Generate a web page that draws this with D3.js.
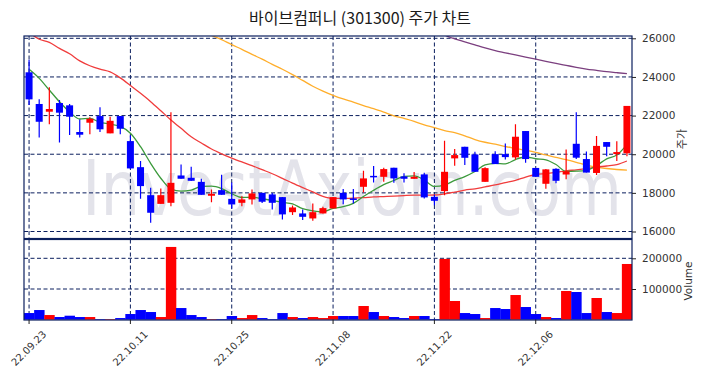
<!DOCTYPE html>
<html><head><meta charset="utf-8">
<script src="https://cdn.jsdelivr.net/npm/d3@7"></script>
<style>body{margin:0;background:#fff}svg{display:block}</style>
</head><body>
<svg id="c" width="703" height="378"></svg>
<script>
const dates = ["22.09.23","22.09.26","22.09.27","22.09.28","22.09.29","22.09.30","22.10.04","22.10.05","22.10.06","22.10.07",
"22.10.11","22.10.12","22.10.13","22.10.14","22.10.17","22.10.18","22.10.19","22.10.20","22.10.21","22.10.24",
"22.10.25","22.10.26","22.10.27","22.10.28","22.10.31","22.11.01","22.11.02","22.11.03","22.11.04","22.11.07",
"22.11.08","22.11.09","22.11.10","22.11.11","22.11.14","22.11.15","22.11.16","22.11.17","22.11.18","22.11.21",
"22.11.22","22.11.23","22.11.24","22.11.25","22.11.28","22.11.29","22.11.30","22.12.01","22.12.02","22.12.05",
"22.12.06","22.12.07","22.12.08","22.12.09","22.12.12","22.12.13","22.12.14","22.12.15","22.12.16","22.12.19"];
const openP = [24240,22600,22200,22650,22530,21150,21630,21975,21080,21975,
 20680,19330,17880,17430,17485,18900,18780,18570,17850,18140,
 17690,17485,17660,18000,17920,17780,17000,16935,16676,16935,
 17195,18000,17710,18313,18880,18830,19300,18850,18727,18955,
 17795,18090,19785,20385,19990,18570,20005,20005,19835,21200,
 19290,18470,19245,18950,20540,19750,19030,20630,20007,20050];
const highP = [24890,22840,23460,22800,22600,21800,21910,22430,21940,21975,
 20975,19645,18260,18230,22170,19470,19350,18730,18180,18935,
 18540,17830,18180,18000,17990,17780,17350,17140,17450,17280,
 17780,18195,18195,19140,19385,19300,19300,19020,19075,19040,
 17900,20695,20265,20385,20125,19330,20160,20560,21545,21200,
 19290,19230,19280,20250,22170,20140,20940,20630,20670,22500];
const lowP = [22545,20870,21550,20610,20990,20870,21040,21150,21080,21040,
 19245,17690,16450,17430,17310,18730,18620,17900,17520,17900,
 17195,17310,17400,17480,17140,16625,16850,16590,16550,16935,
 17194,17415,17450,18020,18540,18570,18520,18540,18727,17710,
 17365,17880,19400,19440,19090,18570,19490,19730,19730,19555,
 18830,18210,18500,18710,19750,19050,18920,19900,19650,19900];
const closeP = [22840,21680,22340,22150,21940,21010,21835,21290,21730,21320,
 19265,18350,16970,17880,18520,18730,18625,17900,17950,17900,
 17400,17660,17970,17540,17485,16885,17245,16760,17000,17210,
 17780,17660,17640,18748,18830,19230,18750,18730,18830,17765,
 17590,19090,19955,19815,19090,19280,19490,19850,20905,19750,
 18830,19215,18625,19120,19820,19050,20430,20385,20110,22500];
const volume = [21700,31500,15200,8700,13000,8700,8700,2200,2200,5400,
 18500,31500,25000,8700,237000,38000,15200,8700,2200,2200,
 12000,5400,15200,5400,2200,21700,8700,5400,8700,5400,
 12000,12000,12000,44600,25000,12000,8700,5400,12000,12000,
 2200,198000,60900,21700,18500,5400,38000,34800,80400,41300,
 18500,8700,5400,93500,90200,21700,70700,25000,21700,181500];
const ma5 = [24394,23928,23322,22716,22190,21824,21855,21645,21561,21437,
 21088,20391,19527,18757,18197,18090,18145,18331,18345,18221,
 17955,17762,17776,17694,17611,17508,17425,17183,17075,17020,
 17199,17282,17458,17808,18132,18422,18640,18858,18874,18661,
 18333,18401,18646,18843,19108,19446,19526,19505,19723,19855,
 19765,19710,19465,19108,19122,19166,19409,19761,19959,20495];
const ma20 = [26300,25950,25790,25480,25200,24830,24580,24400,24260,23950,
 23560,23150,22720,22250,21770,21340,20900,20580,20270,20020,
 19800,19600,19410,19200,18990,18750,18500,18270,18050,17820,
 17710,17710,17720,17750,17790,17810,17830,17860,17880,17880,
 17890,17950,18040,18140,18210,18310,18410,18530,18650,18820,
 18950,19000,19060,19140,19190,19250,19330,19390,19460,19650];
const ma60 = [null,null,null,null,null,null,null,null,null,null,
 null,null,null,null,null,null,null,26400,26150,25930,
 25670,25430,25170,24920,24650,24400,24120,23820,23520,23270,
 23050,22860,22700,22520,22360,22180,21990,21850,21700,21520,
 21380,21220,21120,20950,20760,20620,20520,20400,20300,20200,
 20100,19960,19840,19720,19580,19430,19330,19260,19210,19180];
const ma120 = [null,null,null,null,null,null,null,null,null,null,
 null,null,null,null,null,null,null,null,null,null,
 null,null,null,null,null,null,null,null,null,null,
 null,null,null,null,null,null,null,null,null,null,
 26500,26170,25970,25820,25660,25500,25360,25250,25140,25030,
 24920,24810,24700,24600,24500,24410,24340,24270,24220,24170];
const priceTicks = [16000,18000,20000,22000,24000,26000];
const volTicks = [100000,200000];
const tickIdx = [0,10,20,30,40,50];

const svg = d3.select("#c");
const L = 24, R = 632, T = 36, MB = 238.5, VT = 239.5, VB = 320;
const navy = "#0b1f5e";
const UP = "#ff0000", DOWN = "#0000ff";

svg.append("rect").attr("width",703).attr("height",378).attr("fill","#fff");

const x = d3.scaleBand().domain(d3.range(dates.length)).range([L, R]).padding(0);
const y = d3.scaleLinear().domain([16000, 26000]).range([231.5, 38.3]);
const yv = d3.scaleLinear().domain([0, 200000]).range([319.7, 258.3]);
const cx = i => x(i) + x.bandwidth()/2;

// title
svg.append("text").attr("x",360).attr("y",23.5).attr("text-anchor","middle")
  .attr("font-family","'Noto Sans CJK KR','Noto Sans',sans-serif").attr("font-size",16)
  .attr("fill","#1a1a1a").text("바이브컴퍼니 (301300) 주가 차트");

// clip paths
const defs = svg.append("defs");
defs.append("clipPath").attr("id","mc").append("rect").attr("x",L).attr("y",T).attr("width",R-L).attr("height",MB-T);
defs.append("clipPath").attr("id","vc").append("rect").attr("x",L).attr("y",VT).attr("width",R-L).attr("height",VB-VT);

// watermark: fit to 540px wide, stretched vertically to match glyph height
const wm = svg.append("text").attr("x",0).attr("y",0)
  .attr("font-family","'DejaVu Sans',sans-serif").attr("font-size",76).attr("fill","#e3e3ea")
  .text("InvestAxiom.com");
const natW = wm.node().getComputedTextLength() || 640;
const fs = 76 * 540 / natW;
wm.attr("font-size", fs).attr("transform", `translate(82,215) scale(1,${76/fs})`);

// grids
const grid = svg.append("g").attr("stroke",navy).attr("stroke-width",1).attr("stroke-dasharray","4,2.5").attr("fill","none");
priceTicks.forEach(v => grid.append("line").attr("x1",L).attr("x2",R).attr("y1",y(v)).attr("y2",y(v)));
volTicks.forEach(v => grid.append("line").attr("x1",L).attr("x2",R).attr("y1",yv(v)).attr("y2",yv(v)));
tickIdx.forEach(i => {
  grid.append("line").attr("x1",cx(i)).attr("x2",cx(i)).attr("y1",T).attr("y2",MB);
  grid.append("line").attr("x1",cx(i)).attr("x2",cx(i)).attr("y1",VT).attr("y2",VB);
});

// moving averages
const mg = svg.append("g").attr("clip-path","url(#mc)").attr("fill","none").attr("stroke-width",1.3);
const mkLine = arr => d3.line().defined((d,i)=>arr[i]!=null).x((d,i)=>cx(i)).y((d,i)=>y(arr[i])).curve(d3.curveMonotoneX)(arr);
[[ma120,"#7b3f7f"],[ma60,"#ffae2b"],[ma20,"#f03c3c"]].forEach(([a,c]) =>
  mg.append("path").attr("d",mkLine(a)).attr("stroke",c));

// candles
const cg = svg.append("g").attr("clip-path","url(#mc)");
const bw = 7;
dates.forEach((d,i) => {
  const up = closeP[i] >= openP[i];
  const col = up ? UP : DOWN;
  cg.append("line").attr("x1",cx(i)).attr("x2",cx(i)).attr("y1",y(highP[i])).attr("y2",y(lowP[i]))
    .attr("stroke",col).attr("stroke-width",1.2);
  const top = y(Math.max(openP[i],closeP[i])), bot = y(Math.min(openP[i],closeP[i]));
  cg.append("rect").attr("x",cx(i)-bw/2).attr("y",top).attr("width",bw).attr("height",Math.max(1.5,bot-top)).attr("fill",col);
});
mg.append("path").attr("d",mkLine(ma5)).attr("stroke","#3c9a3c");

// volume
const vg = svg.append("g").attr("clip-path","url(#vc)");
dates.forEach((d,i) => {
  const col = closeP[i] >= openP[i] ? UP : DOWN;
  vg.append("rect").attr("x",x(i)).attr("width",x.bandwidth()+0.3).attr("y",yv(volume[i])).attr("height",yv(0)-yv(volume[i])).attr("fill",col);
});

// borders
svg.append("rect").attr("x",L).attr("y",T).attr("width",R-L).attr("height",MB-T).attr("fill","none").attr("stroke",navy).attr("stroke-width",1.2);
svg.append("rect").attr("x",L).attr("y",VT).attr("width",R-L).attr("height",VB-VT).attr("fill","none").attr("stroke",navy).attr("stroke-width",1.2);

// axes
const axFont = "'DejaVu Sans',sans-serif";
const ay = svg.append("g").attr("transform",`translate(${R},0)`)
  .call(d3.axisRight(y).tickValues(priceTicks).tickSize(4).tickPadding(6).tickFormat(d3.format("d")));
const av = svg.append("g").attr("transform",`translate(${R},0)`)
  .call(d3.axisRight(yv).tickValues(volTicks).tickSize(4).tickPadding(6).tickFormat(d3.format("d")));
const ax = svg.append("g").attr("transform",`translate(0,${VB})`)
  .call(d3.axisBottom(x).tickValues(tickIdx).tickSize(4).tickFormat(i => dates[i]));
[ay,av,ax].forEach(g => {
  g.select(".domain").remove();
  g.selectAll("line").attr("stroke","#222");
  g.selectAll("text").attr("font-family",axFont).attr("font-size",10.5).attr("fill","#333");
});
ax.selectAll("text").attr("text-anchor","end").attr("dy",0).attr("y",0)
  .attr("transform","translate(18,15) rotate(-45)").attr("font-size",10);

svg.append("text").attr("transform","translate(686,139) rotate(-90)").attr("text-anchor","middle")
  .attr("font-family","'Noto Sans CJK KR',sans-serif").attr("font-size",11).attr("fill","#333").text("주가");
svg.append("text").attr("transform","translate(692,281) rotate(-90)").attr("text-anchor","middle")
  .attr("font-family",axFont).attr("font-size",10.5).attr("fill","#333").text("Volume");
</script>
</body></html>
